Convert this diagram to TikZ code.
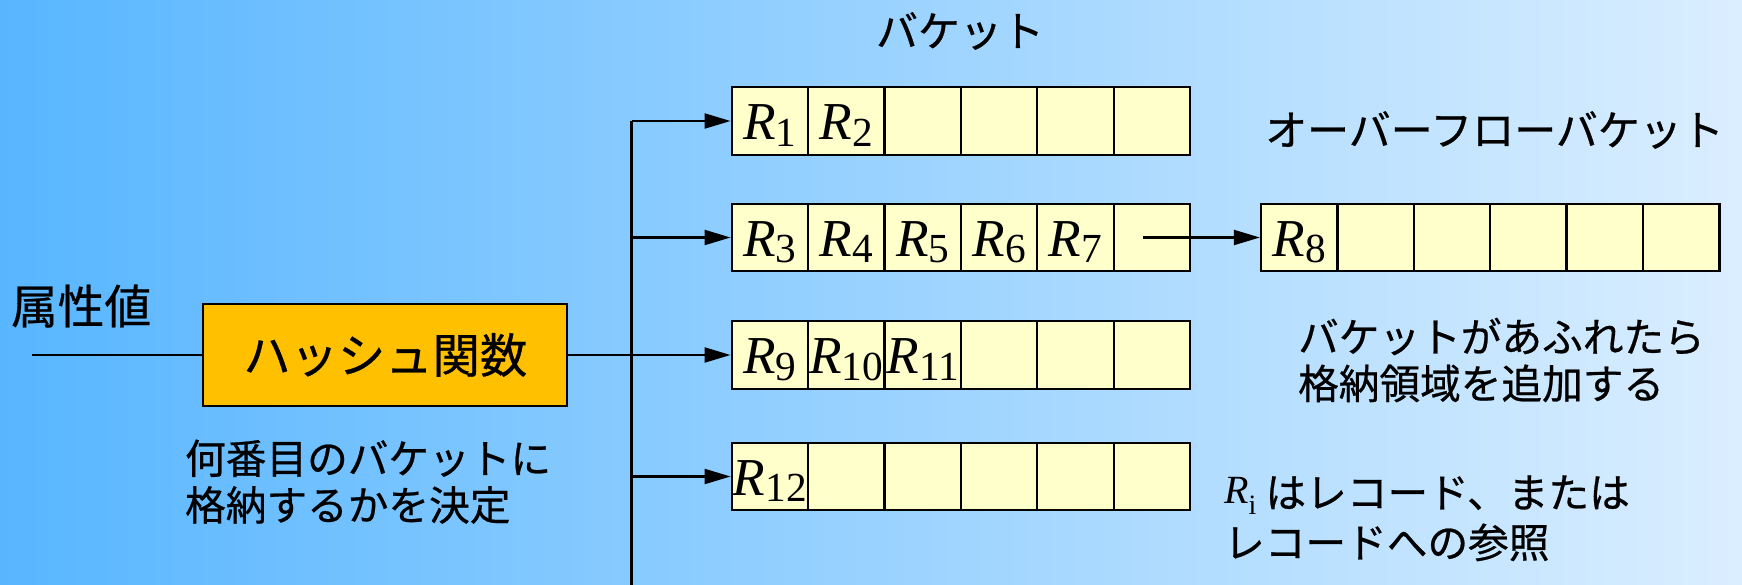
\documentclass[tikz,border=0pt]{standalone}
\usepackage{fontspec}
\setmainfont{Liberation Serif}
\newfontfamily\jp[FakeBold=0.6]{Noto Sans CJK JP}
\usetikzlibrary{arrows.meta}
\definecolor{bgL}{RGB}{88,182,255}
\definecolor{bgR}{RGB}{218,238,255}
\definecolor{cellY}{RGB}{255,255,204}
\definecolor{hashO}{RGB}{255,192,0}
\newcommand{\Rsub}[1]{{\itshape R}\raisebox{-5pt}{\fontsize{31}{31}\selectfont #1}}
\begin{document}
\begin{tikzpicture}[x=0.75pt,y=-0.75pt,line width=1.7pt,
  cell/.style={draw, fill=cellY, minimum width=57.3pt, minimum height=50.6pt, inner sep=0pt,
    text height=28.1pt, text depth=0pt, font=\fontsize{40}{40}\selectfont},
  arr/.style={-{Triangle[length=19.5pt,width=11.2pt]}},
  jpbig/.style={font=\jp\fontsize{35}{40}\selectfont, inner sep=0pt},
  jpmid/.style={font=\jp\fontsize{31.5}{40}\selectfont, inner sep=0pt},
  hashbox/.style={draw, fill=hashO, minimum width=273pt, minimum height=76.3pt, inner sep=0pt,
    font=\jp\fontsize{35.5}{40}\selectfont}]
\useasboundingbox (0,0) rectangle (1742,585);
\shade[left color=bgL, right color=bgR] (0,0) rectangle (1742,585);

% buckets
\foreach \r/\y in {1/121,2/237.5,3/355,4/476.5}{
  \foreach \c in {1,...,6}{
    \node[cell] (b\r-\c) at ({731.7+38.2+(\c-1)*76.4},\y) {};
  }
}
\foreach \c in {1,...,6}{
  \node[cell] (ov-\c) at ({1261+38.2+(\c-1)*76.4},237.5) {};
}
% labels in cells
\node[cell,draw=none,fill=none] at (b1-1) {\Rsub{1}};
\node[cell,draw=none,fill=none] at (b1-2) {\Rsub{2}};
\node[cell,draw=none,fill=none] at (b2-1) {\Rsub{3}};
\node[cell,draw=none,fill=none] at (b2-2) {\Rsub{4}};
\node[cell,draw=none,fill=none] at (b2-3) {\Rsub{5}};
\node[cell,draw=none,fill=none] at (b2-4) {\Rsub{6}};
\node[cell,draw=none,fill=none] at (b2-5) {\Rsub{7}};
\node[cell,draw=none,fill=none] at (b3-1) {\Rsub{9}};
\node[cell,draw=none,fill=none] at (b3-2) {\Rsub{10}};
\node[cell,draw=none,fill=none] at (b3-3) {\Rsub{11}};
\node[cell,draw=none,fill=none] at (b4-1) {\Rsub{12}};
\node[cell,draw=none,fill=none] at (ov-1) {\Rsub{8}};

% hash function
\node[hashbox] (hash) at (385.3,355) {ハッシュ関数};
\node[jpbig, anchor=west] (attr) at (10,306) {属性値};
\coordinate (in) at (31.7,355);
\draw (in) -- (hash.west);

% distribution line
\coordinate (v1) at (631.5,121);
\coordinate (v2) at (631.5,237.5);
\coordinate (v3) at (631.5,355);
\coordinate (v4) at (631.5,476.5);
\coordinate (vend) at (631.5,585);
\draw (v1) -- (vend);
\draw (hash.east) -- (v3);
\draw[arr] (v1) -- (b1-1.west);
\draw[arr] (v2) -- (b2-1.west);
\draw[arr] (v3) -- (b3-1.west);
\draw[arr] (v4) -- (b4-1.west);

% overflow
\coordinate (ovs) at (1143.3,237.5);
\draw[arr] (ovs) -- (ov-1.west);

% texts
\node[jpmid] (tb) at (960,31) {バケット};
\node[jpmid] (tov) at (1494.5,130) {オーバーフローバケット};
\node[jpmid, font=\jp\fontsize{30.5}{35}\selectfont, align=left, anchor=west] (cap1) at (184,481.7)
  {何番目のバケットに\\格納するかを決定};
\node[jpmid, font=\jp\fontsize{30.5}{35}\selectfont, align=left, anchor=west] (cap2) at (1297,360)
  {バケットがあふれたら\\格納領域を追加する};
\node[jpmid, font=\jp\fontsize{30.5}{37.5}\selectfont, align=left, anchor=west] (cap3) at (1223,518.3)
  {{\rmfamily\fontsize{30}{30}\selectfont\raisebox{3.5pt}{\itshape R}\raisebox{-5pt}{\fontsize{21}{21}\selectfont i}}\ はレコード、または\\レコードへの参照};
\end{tikzpicture}
\end{document}
